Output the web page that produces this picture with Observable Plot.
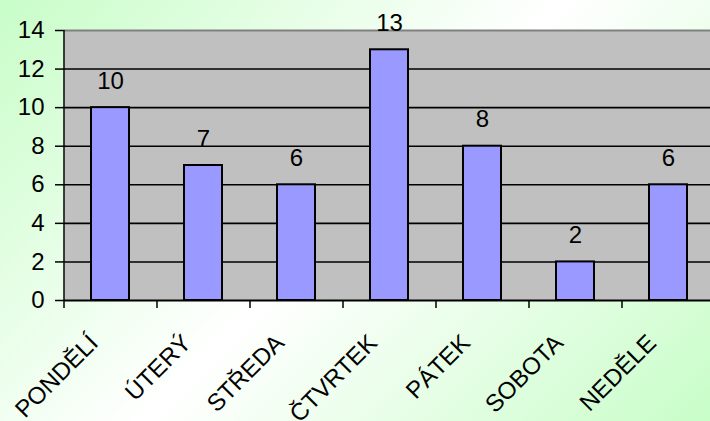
<!DOCTYPE html>
<html><head><meta charset="utf-8">
<script src="https://cdn.jsdelivr.net/npm/d3@7"></script>
<script src="https://cdn.jsdelivr.net/npm/@observablehq/plot@0.6"></script>
<style>
html,body{margin:0;padding:0;}
body{width:710px;height:421px;overflow:hidden;background:linear-gradient(135deg,#c8fdc8 0%,#ffffff 50%,#c8fdc8 100%);}
svg{display:block;background:transparent;}
</style></head><body>
<div id="chart"></div>
<script>
const days = ["PONDĚLÍ","ÚTERÝ","STŘEDA","ČTVRTEK","PÁTEK","SOBOTA","NEDĚLE"];
const counts = [10, 7, 6, 13, 8, 2, 6];
const yTicks = [0, 2, 4, 6, 8, 10, 12, 14];
const grid = [2, 4, 6, 8, 10, 12];

const data = days.map((d, i) => ({day: d, value: counts[i]}));
const font = "'Liberation Sans', Arial, sans-serif";

const chart = Plot.plot({
  width: 710,
  height: 421,
  marginLeft: 64,
  marginTop: 30,
  marginBottom: 121,
  marginRight: 0,
  style: {fontFamily: font, background: "transparent", overflow: "visible"},
  x: {domain: days, range: [64, 715], paddingInner: 0.59, paddingOuter: 0.295, align: 0.5, axis: null},
  y: {domain: [0, 14], range: [300, 30], axis: null},
  marks: [
    Plot.frame({fill: "#c0c0c0", stroke: null}),
    Plot.ruleY(grid, {stroke: "black", strokeWidth: 1.6}),
    Plot.ruleY([14], {stroke: "#808080", strokeWidth: 2}),
    Plot.barY(data, {x: "day", y: "value", fill: "#9999ff", stroke: "black", strokeWidth: 2}),
    Plot.text(data, {x: "day", y: "value", text: d => String(d.value), lineAnchor: "bottom", dy: -19, fontSize: 24, fill: "black"}),
    Plot.axisY(yTicks, {tickSize: 9, tickPadding: 11, fontSize: 24, stroke: "black", strokeWidth: 1.5, color: "black", label: null}),
    Plot.ruleX(days, {x: d => d, dx: -46.5, y1: 0, y2: 0, insetBottom: -8, stroke: "black", strokeWidth: 1.5}),
    Plot.ruleY([0], {stroke: "black", strokeWidth: 2}),
    Plot.ruleX([0], {x: () => days[0], dx: -46.5, y1: 0, y2: 14, stroke: "black", strokeWidth: 1.5}),
    Plot.text(data, {x: "day", y: 0, text: "day", rotate: -45, textAnchor: "end", lineAnchor: "bottom", dy: 44, dx: -11, fontSize: 24, fill: "black"})
  ]
});
document.getElementById("chart").append(chart);
</script></body></html>
